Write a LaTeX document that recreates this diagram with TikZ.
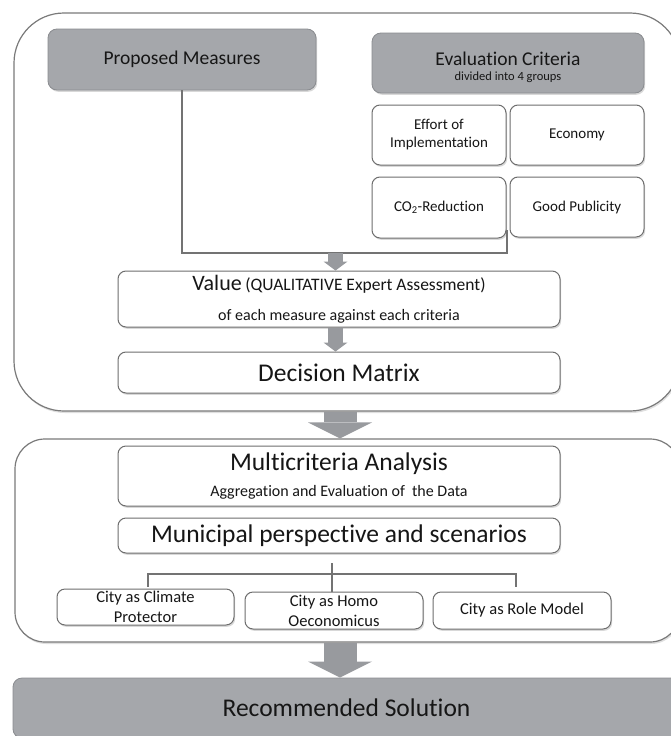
\documentclass[tikz,border=0pt]{standalone}
\usepackage{fontspec}
\setmainfont[Ligatures=NoCommon]{Carlito}
\usetikzlibrary{arrows.meta,shadows}
\definecolor{darkfill}{HTML}{A5A7AB}
\definecolor{darkedge}{HTML}{8A8C90}
\definecolor{wedge}{HTML}{6E6E6E}
\definecolor{gedge}{HTML}{7A7A7A}
\definecolor{lineg}{HTML}{737373}
\definecolor{arrowg}{HTML}{989A9E}
\definecolor{txt}{HTML}{161616}
\newcommand\setfs[2]{\fontsize{#1}{#2}\selectfont}
\tikzset{
  shad/.style={drop shadow={shadow xshift=1.2pt,shadow yshift=-1.8pt,opacity=0.3}},
  darkbox/.style={draw=darkedge, fill=darkfill, line width=0.8pt, rounded corners=9pt,
    inner sep=0pt, align=center, text=txt, shad},
  whitebox/.style={draw=wedge, fill=white, line width=1pt, rounded corners=8pt,
    inner sep=0pt, align=center, text=txt, shad},
  groupbox/.style={draw=gedge, fill=white, line width=1.2pt, inner sep=0pt,
    drop shadow={shadow xshift=1pt,shadow yshift=-2pt,opacity=0.25}},
  conn/.style={draw=lineg, line width=2.4pt},
  bigarrow/.style={draw=arrowg, line width=33pt, -{Triangle[width=64pt,length=16pt,line width=0pt]}},
  smallarrow/.style={draw=arrowg, line width=15pt, -{Triangle[width=24pt,length=9pt,line width=0pt]}},
}
\begin{document}
\begin{tikzpicture}[x=1pt,y=-1pt]
\useasboundingbox (0,0) rectangle (671,736);
\clip (0,0) rectangle (671,736);

% group containers
\node[groupbox, rounded corners=50pt, minimum width=666pt, minimum height=398pt] (grp1) at (347,212) {};
\node[groupbox, rounded corners=30pt, minimum width=665pt, minimum height=203pt] (grp2) at (347.5,540.5) {};

% top part
\node[darkbox, minimum width=268pt, minimum height=61pt, font=\setfs{19.5}{22}] (pm) at (182,59.5) {Proposed Measures};
\node[darkbox, minimum width=272pt, minimum height=60pt, font=\setfs{19.5}{19}] (crit) at (508,63)
  {\rule{0pt}{22pt}Evaluation Criteria\\[-4pt]{\setfs{12.5}{14}divided into 4 groups}};

\node[whitebox, minimum width=134pt, minimum height=60pt, font=\setfs{15}{18}] (effort) at (439,135) {Effort of\\Implementation};
\node[whitebox, minimum width=134pt, minimum height=60pt, font=\setfs{15}{18}] (econ) at (577,135) {Economy};
\node[whitebox, minimum width=134pt, minimum height=61pt, font=\setfs{15}{18}] (co2) at (439,207.5) {CO\textsubscript{2}-Reduction};
\node[whitebox, minimum width=134pt, minimum height=60pt, font=\setfs{15}{18}] (pub) at (577,207) {Good Publicity};

\node[whitebox, minimum width=442pt, minimum height=56pt, font=\setfs{16}{30}] (value) at (339,299)
  {{\setfs{22}{24}Value} {\setfs{17.5}{20}(QUALITATIVE Expert Assessment)}\\of each measure against each criteria};
\node[whitebox, minimum width=442pt, minimum height=41pt, font=\setfs{25.5}{28}] (dec) at (339,372.5) {Decision Matrix};

% connectors top
\coordinate (gap) at (507,230);
\coordinate (jn) at (507,253);
\coordinate (ax1) at (335.5,253);
\draw[conn] (pm.south) |- (jn) -- (gap);
\draw[smallarrow] (ax1) -- (ax1 |- value.north);
\draw[smallarrow] (value.south -| ax1) -- (dec.north -| ax1);

% big arrow 1
\coordinate (ax) at (340,0);
\draw[bigarrow] (grp1.south -| ax) -- (grp2.north -| ax);

% lower part
\node[whitebox, minimum width=442pt, minimum height=60pt, font=\setfs{16}{26}] (mca) at (339,476)
  {{\setfs{25.5}{28}Multicriteria Analysis}\\Aggregation and Evaluation of\ \ the Data};
\node[whitebox, minimum width=442pt, minimum height=35pt, font=\setfs{25.5}{28}] (mun) at (339,535.5) {Municipal perspective and scenarios};

\node[whitebox, minimum width=177pt, minimum height=36pt, font=\setfs{16.5}{20}] (c1) at (145.5,607) {City as Climate\\Protector};
\node[whitebox, minimum width=178pt, minimum height=37pt, font=\setfs{16.5}{20}] (c2) at (334,610.5) {City as Homo\\Oeconomicus};
\node[whitebox, minimum width=178pt, minimum height=37pt, font=\setfs{16.5}{20}] (c3) at (522,610.5) {City as Role Model};

\coordinate (tt) at (332,563);
\coordinate (tl) at (148,574);
\coordinate (tr) at (516,574);
\coordinate (tm) at (332,574);
\draw[conn] (tt) -- (tm |- c2.north) ++(0,-7) coordinate (tb);
\draw[conn] (tl |- c1.north) ++(0,-2) -- (tl) -- (tr) -- ++(0,13);

% big arrow 2
\node[darkbox, rounded corners=9pt, minimum width=667pt, minimum height=60pt, font=\setfs{25.5}{28}] (rec) at (346.5,708) {Recommended Solution};
\draw[bigarrow] (grp2.south -| ax) -- (rec.north -| ax);
\end{tikzpicture}
\end{document}
